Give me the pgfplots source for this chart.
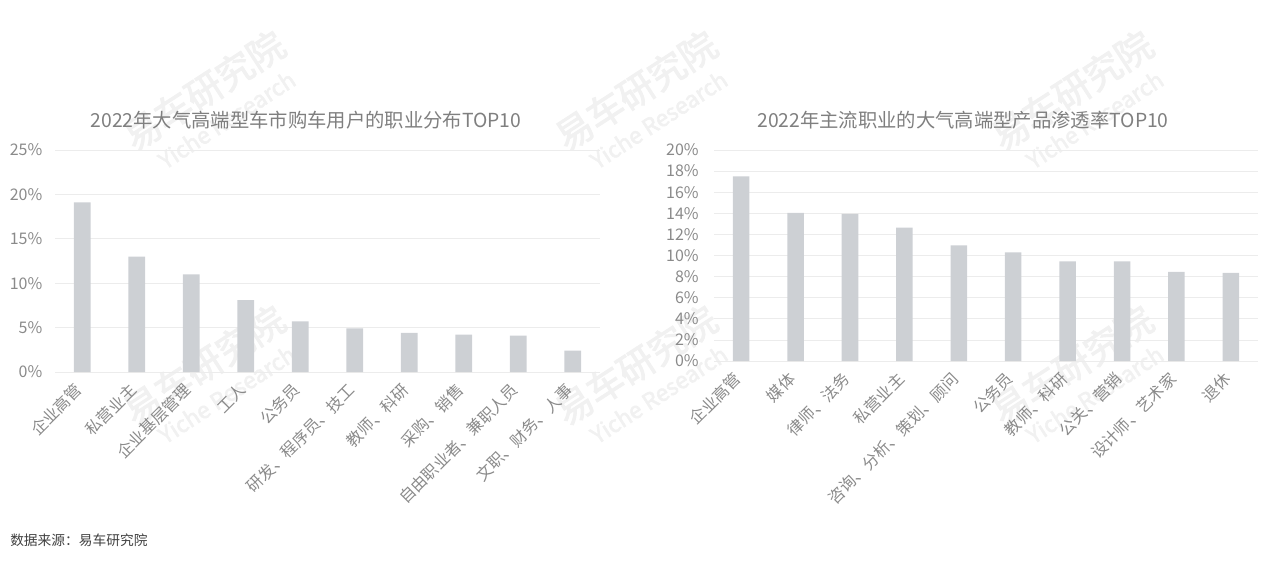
\documentclass[border=0pt]{standalone}
\usepackage{fontspec}
\setmainfont{Noto Sans CJK SC}
\newfontfamily\wmfont[FakeBold=2.5]{Noto Sans CJK SC}
\usepackage{pgfplots}
\pgfplotsset{compat=1.18}
\definecolor{barc}{HTML}{CDD0D4}
\definecolor{gridc}{HTML}{ECECEC}
\definecolor{tickc}{HTML}{8A8A8A}
\definecolor{titlec}{HTML}{7F7F7F}
\definecolor{srcc}{HTML}{404040}
\definecolor{wmc}{HTML}{F1F1F1}
\pgfplotsset{
  barstyle/.style={
    scale only axis,
    anchor=south west,
    ybar,
    bar width=12.4pt,
    xmin=-0.5, xmax=9.5,
    ymin=0,
    xtick={0,...,9},
    axis line style={draw=none},
    major tick length=0pt,
    ymajorgrids,
    grid style={gridc, line width=0.6pt},
    /pgf/number format/assume math mode=true,
    yticklabel={\pgfmathprintnumber{\tick}\%},
    yticklabel style={font=\fontsize{12}{14}\selectfont, text=tickc},
    xticklabel shift=9pt,
    xticklabel style={font=\fontsize{12}{14}\selectfont, text=tickc, rotate=45, anchor=east},
  }
}
\begin{document}
\begin{tikzpicture}
\path[use as bounding box] (0,0) rectangle (952.5pt,420.75pt);
% watermarks
\foreach \wx/\wy in {153/147, 477/147, 804/147, 153/353, 477/353, 804/353}{
  \node[rotate=33, text=wmc, font=\wmfont\fontsize{27.5}{30}\selectfont] at (\wx pt,\wy pt) {易车研究院};
  \node[rotate=33, text=wmc, font=\wmfont\fontsize{17}{19}\selectfont] at (\wx pt+17pt,\wy pt-22pt) {Yiche Research};
}
\begin{axis}[barstyle,
  at={(41.25pt,141.75pt)}, width=408.75pt, height=166.5pt,
  ymax=25, ytick={0,5,...,25},
  yticklabel style={xshift=-6pt},
  xticklabels={企业高管,私营业主,企业基层管理,工人,公务员,{研发、程序员、技工},{教师、科研},{采购、销售},{自由职业者、兼职人员},{文职、财务、人事}},
]
\addplot[fill=barc, draw=none] coordinates {(0,19.1) (1,13.0) (2,11.0) (3,8.1) (4,5.7) (5,4.9) (6,4.4) (7,4.2) (8,4.1) (9,2.4)};
\end{axis}
\begin{axis}[barstyle,
  at={(535.5pt,150pt)}, width=408pt, height=158.25pt,
  ymax=20, ytick={0,2,...,20},
  yticklabel style={xshift=-8pt},
  xticklabels={企业高管,媒体,{律师、法务},私营业主,{咨询、分析、策划、顾问},公务员,{教师、科研},{公关、营销},{设计师、艺术家},退休},
]
\addplot[fill=barc, draw=none] coordinates {(0,17.5) (1,14.05) (2,13.95) (3,12.65) (4,10.95) (5,10.3) (6,9.45) (7,9.45) (8,8.45) (9,8.35)};
\end{axis}
\node[text=titlec, font=\fontsize{14.5}{16}\selectfont] at (229.5pt,330.75pt) {2022年大气高端型车市购车用户的职业分布TOP10};
\node[text=titlec, font=\fontsize{14.5}{16}\selectfont] at (722.25pt,330.75pt) {2022年主流职业的大气高端型产品渗透率TOP10};
\node[text=srcc, anchor=west, inner sep=0pt, font=\fontsize{10.3}{12}\selectfont] at (7.5pt,15.75pt) {数据来源：易车研究院};
\end{tikzpicture}
\end{document}
